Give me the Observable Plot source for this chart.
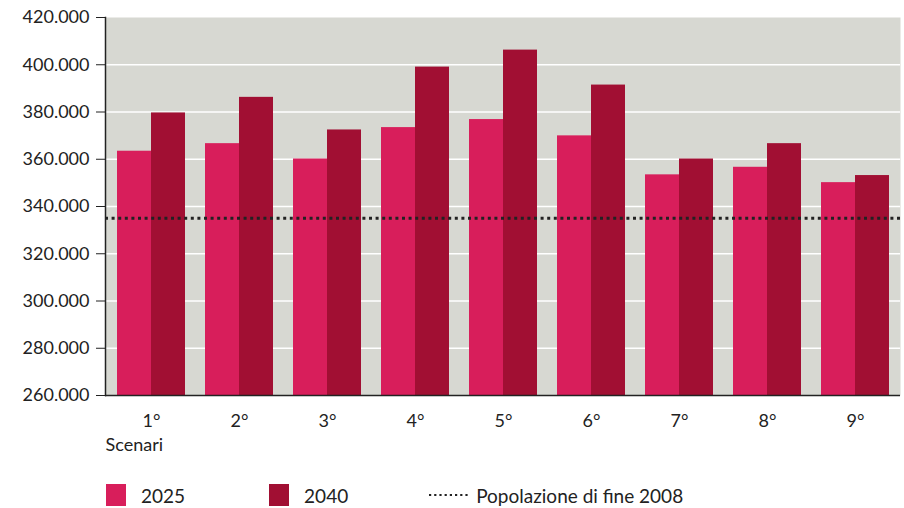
<!DOCTYPE html>
<html>
<head>
<meta charset="utf-8">
<script src="https://cdn.jsdelivr.net/npm/d3@7"></script>
<script src="https://cdn.jsdelivr.net/npm/@observablehq/plot@0.6"></script>
<style>
  body { margin: 0; background: #fff; font-family: Lato, "Open Sans", sans-serif; }
  #chart { position: relative; width: 904px; }
  .legend { display: flex; align-items: center; height: 26px; margin-top: 20px; font-size: 19px; color: #222; }
  .sw { display: inline-block; width: 20px; height: 22px; margin-right: 15px; }
  .item { display: flex; align-items: center; }
</style>
</head>
<body>
<div id="chart"></div>
<script>
// Popolazione residente per scenario (valori in abitanti)
const scenari = ["1°", "2°", "3°", "4°", "5°", "6°", "7°", "8°", "9°"];
const anni = ["2025", "2040"];
const valori2025 = [363400, 366600, 360100, 373400, 376800, 369900, 353400, 356600, 350100];
const valori2040 = [379600, 386200, 372400, 399000, 406200, 391400, 360100, 366600, 353100];
const popolazione2008 = 335000;
const yTicks = [260000, 280000, 300000, 320000, 340000, 360000, 380000, 400000, 420000];
const colori = ["#d81e5b", "#a10f33"];

const data = scenari.flatMap((s, i) => [
  {scenario: s, anno: anni[0], valore: valori2025[i]},
  {scenario: s, anno: anni[1], valore: valori2040[i]}
]);

const fmt = d => d3.format(",")(d).replace(/,/g, ".");

const W = 904, H = 462;
const margins = {marginTop: 17, marginBottom: 67, marginLeft: 105, marginRight: 4};
const xScale = {domain: scenari, paddingInner: 0.23, paddingOuter: 0.1};

// first pass only to read the band width of the scenario scale
const probe = Plot.plot({width: W, height: H, ...margins, x: xScale, marks: [Plot.barY(data, {x: "scenario", y: "valore"})]});
const half = probe.scale("x").bandwidth / 2;

const chart = Plot.plot({
  width: W,
  height: H,
  ...margins,
  style: {fontFamily: "Lato, 'Open Sans', sans-serif", fontSize: "18px", color: "#222", background: "#fff"},
  x: {...xScale, axis: null},
  y: {domain: [260000, 420000], axis: null},
  marks: [
    Plot.frame({fill: "#d7d8d2", stroke: null}),
    Plot.ruleY(yTicks.slice(1, -1), {stroke: "#fff", strokeWidth: 1.5}),
    Plot.barY(data.filter(d => d.anno === anni[0]), {x: "scenario", y1: 260000, y2: "valore", fill: colori[0], insetRight: half}),
    Plot.barY(data.filter(d => d.anno === anni[1]), {x: "scenario", y1: 260000, y2: "valore", fill: colori[1], insetLeft: half}),
    Plot.ruleY([popolazione2008], {stroke: "#222", strokeWidth: 3, strokeDasharray: "3,3.6"}),
    Plot.axisY({ticks: yTicks, tickFormat: fmt, tickSize: 9, tickPadding: 7, label: null, fontSize: 18, stroke: "#222"}),
    Plot.axisX({tickSize: 0, tickPadding: 19, label: null, fontSize: 18}),
    Plot.text(["Scenari"], {frameAnchor: "bottom-left", textAnchor: "start", dy: 55, fontSize: 18, fill: "#222"}),
    Plot.frame({anchor: "left", stroke: "#222", strokeWidth: 1.5}),
    Plot.ruleY([260000], {stroke: "#222", strokeWidth: 1.5})
  ]
});

const root = document.getElementById("chart");
root.append(chart);

// legenda sotto il grafico
const legend = document.createElement("div");
legend.className = "legend";
legend.innerHTML = `
  <div class="item" style="margin-left:106px"><span class="sw" style="background:${colori[0]}"></span>${anni[0]}</div>
  <div class="item" style="margin-left:84px"><span class="sw" style="background:${colori[1]}"></span>${anni[1]}</div>
  <div class="item" style="margin-left:80px"><svg width="40" height="6" style="margin-right:8px"><line x1="1" y1="3" x2="40" y2="3" stroke="#222" stroke-width="2.2" stroke-dasharray="2.2,3"/></svg>Popolazione di fine 2008</div>`;
root.append(legend);
</script>
</body>
</html>
